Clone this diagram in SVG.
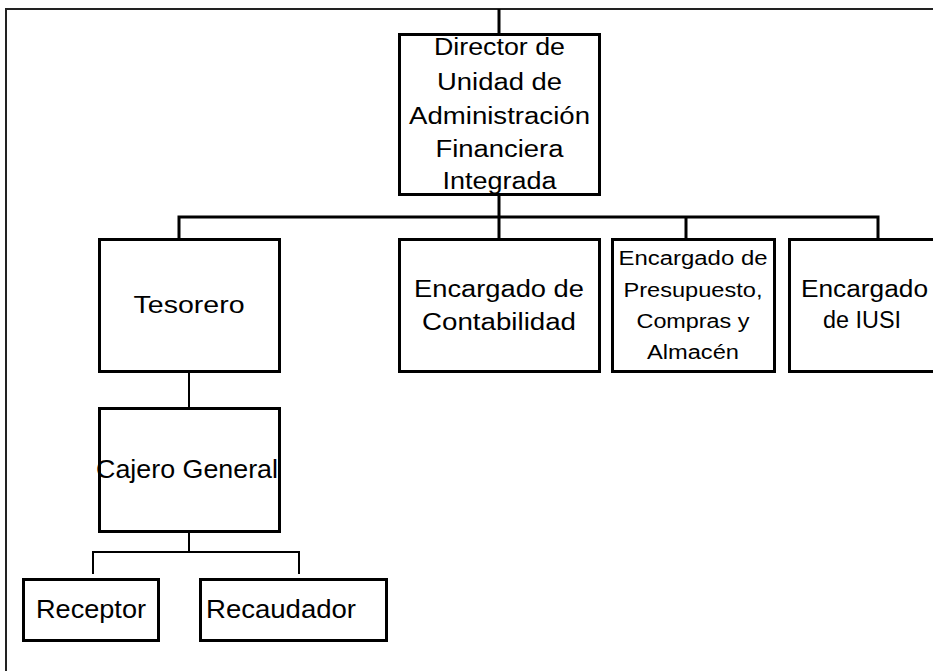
<svg xmlns="http://www.w3.org/2000/svg" width="933" height="671" viewBox="0 0 933 671">
<style>
.box{fill:#fff;stroke:#000;stroke-width:3}
.t{font-family:"Liberation Sans",Arial,sans-serif;fill:#000;text-anchor:middle}
.c{fill:none;stroke:#000;stroke-width:3}
.cs{fill:none;stroke:#000;stroke-width:2}
</style>
<rect x="0" y="0" width="933" height="671" fill="#fff"/>
<polyline points="6,671 6,9 933,9" fill="none" stroke="#222" stroke-width="2"/>
<g id="connectors">
<line class="c" x1="499" y1="9" x2="499" y2="34"/>
<line class="c" x1="499" y1="196" x2="499" y2="217"/>
<polyline class="c" points="179,238 179,217 878,217 878,238"/>
<line class="c" x1="499" y1="217" x2="499" y2="238"/>
<line class="c" x1="686" y1="217" x2="686" y2="238"/>
<line class="cs" x1="189" y1="373" x2="189" y2="407"/>
<line class="cs" x1="189" y1="533" x2="189" y2="552"/>
<polyline class="cs" points="93,574 93,552 299,552 299,574"/>
</g>
<g id="director">
<rect class="box" x="399.5" y="34.5" width="200" height="160"/>
<text class="t" font-size="23" x="499.5" y="55" textLength="131" lengthAdjust="spacingAndGlyphs">Director de</text>
<text class="t" font-size="23" x="499.5" y="90" textLength="125" lengthAdjust="spacingAndGlyphs">Unidad de</text>
<text class="t" font-size="23" x="499.5" y="124" textLength="181" lengthAdjust="spacingAndGlyphs">Administración</text>
<text class="t" font-size="23" x="499.5" y="157" textLength="128" lengthAdjust="spacingAndGlyphs">Financiera</text>
<text class="t" font-size="23" x="499.5" y="189" textLength="114" lengthAdjust="spacingAndGlyphs">Integrada</text>
</g>
<g id="tesorero">
<rect class="box" x="99.5" y="239.5" width="180" height="132"/>
<text class="t" font-size="24" x="189" y="313" textLength="111" lengthAdjust="spacingAndGlyphs">Tesorero</text>
</g>
<g id="contabilidad">
<rect class="box" x="399.5" y="239.5" width="200" height="132"/>
<text class="t" font-size="23" x="499" y="297" textLength="170" lengthAdjust="spacingAndGlyphs">Encargado de</text>
<text class="t" font-size="23" x="499" y="330" textLength="154" lengthAdjust="spacingAndGlyphs">Contabilidad</text>
</g>
<g id="presupuesto">
<rect class="box" x="612.5" y="239.5" width="162" height="132"/>
<text class="t" font-size="20" x="693" y="265" textLength="149" lengthAdjust="spacingAndGlyphs">Encargado de</text>
<text class="t" font-size="20" x="693" y="297" textLength="139" lengthAdjust="spacingAndGlyphs">Presupuesto,</text>
<text class="t" font-size="20" x="693" y="328" textLength="113" lengthAdjust="spacingAndGlyphs">Compras y</text>
<text class="t" font-size="20" x="693" y="359" textLength="92" lengthAdjust="spacingAndGlyphs">Almacén</text>
</g>
<g id="iusi">
<rect class="box" x="789.5" y="239.5" width="200" height="132"/>
<text class="t" font-size="23" x="864.5" y="297" textLength="127" lengthAdjust="spacingAndGlyphs">Encargado</text>
<text class="t" font-size="23" x="862" y="328" textLength="78" lengthAdjust="spacingAndGlyphs">de IUSI</text>
</g>
<g id="cajero">
<rect class="box" x="99.5" y="408.5" width="180" height="123"/>
<text class="t" font-size="25" x="187" y="478" textLength="182" lengthAdjust="spacingAndGlyphs">Cajero General</text>
</g>
<g id="receptor">
<rect class="box" x="23.5" y="579.5" width="135" height="61"/>
<text class="t" font-size="25" x="91" y="618" textLength="110" lengthAdjust="spacingAndGlyphs">Receptor</text>
</g>
<g id="recaudador">
<rect class="box" x="200.5" y="579.5" width="186" height="61"/>
<text class="t" font-size="25" x="281" y="618" textLength="150" lengthAdjust="spacingAndGlyphs">Recaudador</text>
</g>
</svg>
